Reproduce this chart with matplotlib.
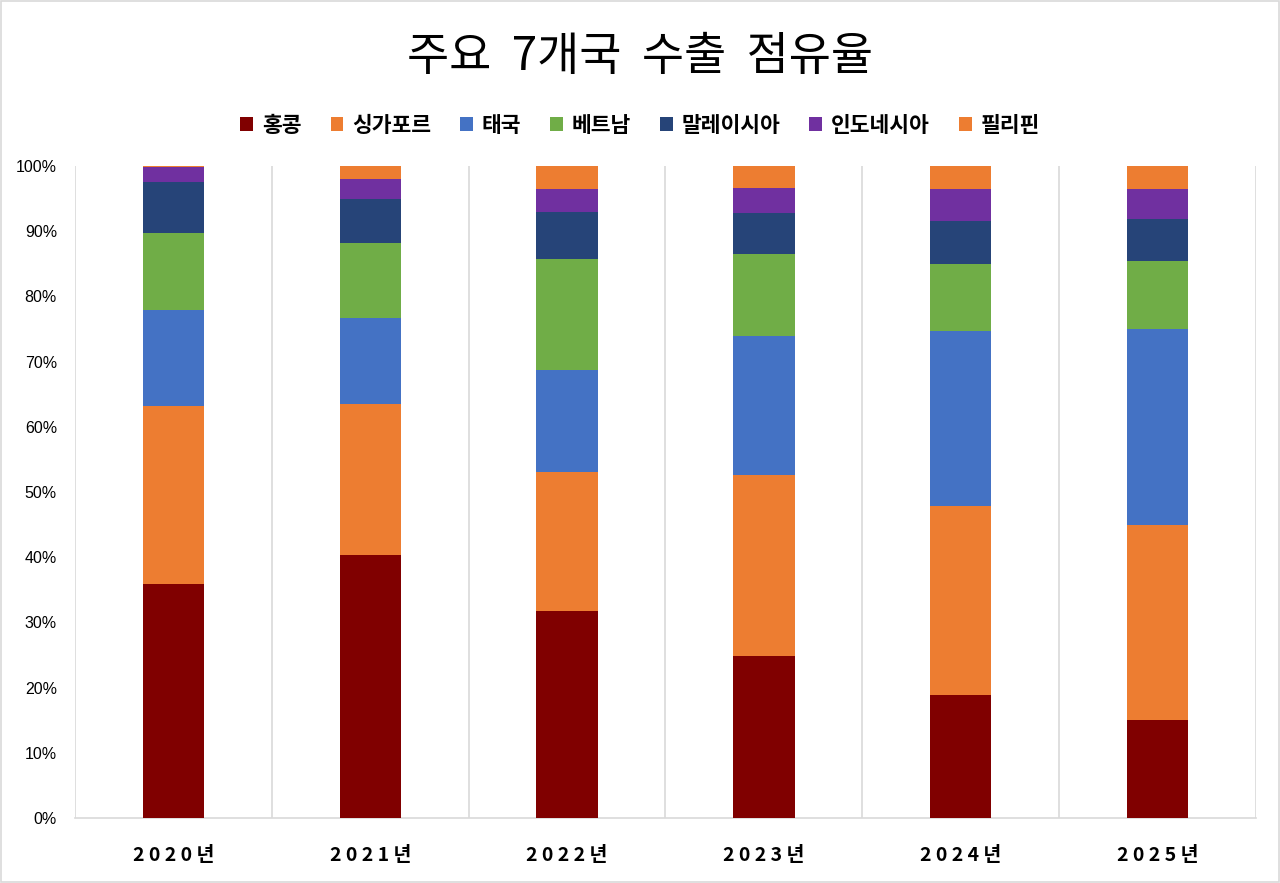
import matplotlib
matplotlib.use("Agg")
import matplotlib.pyplot as plt
from matplotlib.patches import Patch, Rectangle
import numpy as np

plt.rcParams['font.family'] = ['Noto Sans CJK KR', 'DejaVu Sans']

years = ["2020년", "2021년", "2022년", "2023년", "2024년", "2025년"]
series_names = ["홍콩", "싱가포르", "태국", "베트남", "말레이시아", "인도네시아", "필리핀"]
hongkong    = [35.9, 40.3, 31.7, 24.8, 18.9, 15.0]
singapore   = [27.3, 23.2, 21.4, 27.8, 29.0, 29.9]
thailand    = [14.7, 13.2, 15.6, 21.3, 26.8, 30.1]
vietnam     = [11.8, 11.5, 17.1, 12.6, 10.2, 10.5]
malaysia    = [7.8, 6.7, 7.1, 6.3, 6.7, 6.4]
indonesia   = [2.3, 3.1, 3.6, 3.8, 4.9, 4.6]
philippines = [0.2, 2.0, 3.5, 3.4, 3.5, 3.5]
colors = ["#800000", "#ED7D31", "#4472C4", "#70AD47", "#264478", "#7030A0", "#ED7D31"]

data = [hongkong, singapore, thailand, vietnam, malaysia, indonesia, philippines]
arr = np.array(data, dtype=float)
shares = arr / arr.sum(axis=0) * 100

fig = plt.figure(figsize=(12.8, 8.83), dpi=100)
ax = fig.add_axes([75/1280, 65/883, (1256-75)/1280, (818-166)/883])

x = np.arange(len(years))
bottom = np.zeros(len(years))
for vals, col in zip(shares, colors):
    ax.bar(x, vals, width=0.312, bottom=bottom, color=col, edgecolor='none', zorder=3)
    bottom += vals

ax.set_xlim(-0.5, len(years) - 0.5)
ax.set_ylim(0, 100)
ax.set_yticks(np.arange(0, 101, 10))
ax.set_yticklabels([f"{v}%" for v in range(0, 101, 10)], fontsize=11.5,
                   family=['Liberation Sans', 'DejaVu Sans'])
ax.set_xticks(x)
ax.set_xticklabels([" ".join(y) for y in years], fontsize=14, fontweight='bold')
ax.tick_params(axis='both', length=0)
ax.tick_params(axis='y', pad=13)
ax.tick_params(axis='x', pad=20)

for b in np.arange(-0.5, len(years), 1.0):
    ax.axvline(b, color='#D9D9D9', lw=1.2, zorder=1)
for s in ['top', 'left', 'right']:
    ax.spines[s].set_visible(False)
ax.spines['bottom'].set_color('#D9D9D9')
ax.spines['bottom'].set_linewidth(1.2)

fig.text(0.5, 1 - 57/883, "주요  7개국  수출  점유율", ha='center', va='center', fontsize=33)

handles = [Patch(facecolor=c, edgecolor='none') for c in colors]
fig.legend(handles, series_names, loc='center', bbox_to_anchor=(0.5, 1 - 125/883), ncol=7,
           frameon=False, prop={'size': 15.5, 'weight': 'bold'}, handlelength=0.6, handleheight=0.6,
           handletextpad=0.4, columnspacing=1.35)

fig.patches.append(Rectangle((0.0008, 0.0012), 0.9984, 0.9976, transform=fig.transFigure,
                             fill=False, edgecolor='#D9D9D9', lw=1.2))

fig.savefig("out.png", dpi=100, facecolor='white')
